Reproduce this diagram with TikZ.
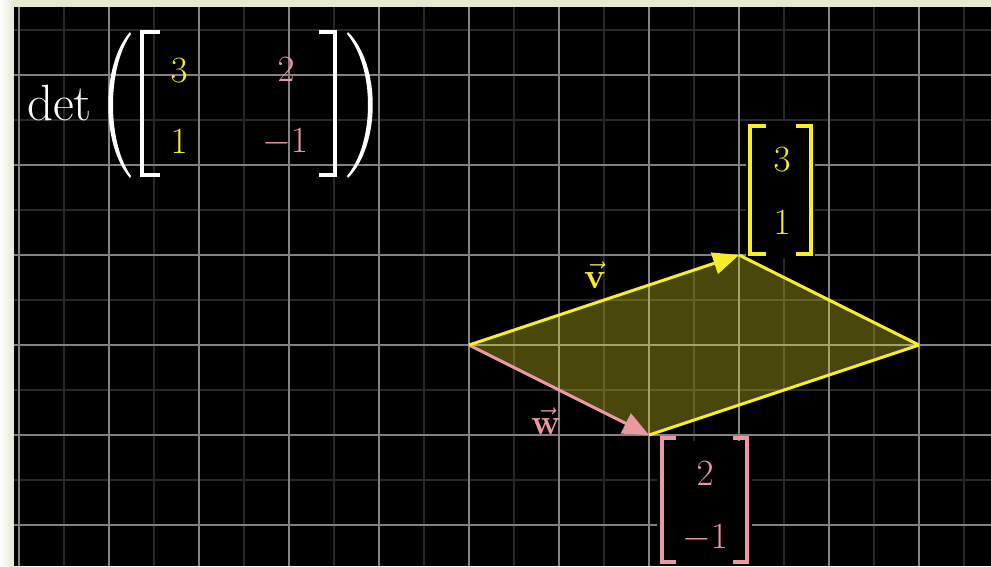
\RequirePackage{fix-cm}
\documentclass[tikz,border=0pt]{standalone}
\usetikzlibrary{arrows.meta}
\definecolor{frame}{RGB}{228,234,208}
\definecolor{vyel}{RGB}{245,238,40}
\definecolor{wpink}{RGB}{234,152,162}
\definecolor{majorg}{RGB}{130,130,130}
\definecolor{minorg}{RGB}{40,40,40}
\tikzset{
  minorline/.style={minorg, line width=1.1pt},
  majorline/.style={majorg, line width=1.7pt},
  edgeline/.style={vyel, line width=3pt, line join=round},
  yarrow/.style={vyel, line width=3pt, -{Triangle[length=26pt,width=22pt]}},
  parrow/.style={wpink, line width=3pt, -{Triangle[length=26pt,width=22pt]}},
  brk/.style={line width=4.5pt, line join=miter, line cap=butt},
  digit/.style={inner sep=0pt, font=\fontsize{37}{40}\selectfont},
  veclabel/.style={inner sep=0pt, font=\fontsize{36}{40}\selectfont},
  bgbox/.style={fill=black}
}
\begin{document}
\begin{tikzpicture}[x=1pt,y=-1pt]
\useasboundingbox (0,0) rectangle (991,566);
\fill[frame] (0,0) rectangle (991,566);
\shade[left color=white, right color=frame] (0,0) rectangle (14,566);
\fill[black] (14,7) rectangle (991,566);
\begin{scope}
  \clip (14,7) rectangle (991,566);
  \foreach \x in {64,154,...,964} \draw[minorline] (\x,7) -- (\x,566);
  \foreach \y in {30,120,...,570} \draw[minorline] (14,\y) -- (991,\y);
  \foreach \x in {19,109,...,919} \draw[majorline] (\x,7) -- (\x,566);
  \foreach \y in {75,165,...,525} \draw[majorline] (14,\y) -- (991,\y);
\end{scope}

% backgrounds of the column vectors
\fill[bgbox] (746,121) rectangle (815,258);
\fill[bgbox] (657,441) rectangle (752,566);

% vectors and parallelogram
\coordinate (O) at (469,345);
\coordinate (V) at (739,255);
\coordinate (W) at (649,435);
\coordinate (S) at (919,345);
\fill[vyel, opacity=0.3] (O) -- (V) -- (S) -- (W) -- cycle;
\draw[edgeline] (V) -- (S);
\draw[edgeline] (W) -- (S);
\draw[parrow] (O) -- (W);
\draw[yarrow] (O) -- (V);

\node[veclabel, text=vyel] (vlab) at (595,275) {$\vec{\mathbf{v}}$};
\node[veclabel, text=wpink] (wlab) at (546,421) {$\vec{\mathbf{w}}$};

% column vector v
\node[digit, text=vyel] (v1) at (782,160) {$3$};
\node[digit, text=vyel] (v2) at (782,223) {$1$};
\draw[brk, vyel] (766,126) -- (750,126) -- (750,254) -- (766,254);
\draw[brk, vyel] (796,126) -- (811,126) -- (811,254) -- (796,254);

% column vector w
\node[digit, text=wpink] (w1) at (705,474) {$2$};
\node[digit, text=wpink] (w2) at (705,538) {$-1$};
\draw[brk, wpink] (676,438) -- (662,438) -- (662,562) -- (676,562);
\draw[brk, wpink] (733,438) -- (747,438) -- (747,562) -- (733,562);

% determinant expression
\node[inner sep=0pt, anchor=base west, text=white, font=\fontsize{51}{56}\selectfont] (det) at (27,120) {det};
\fill[white] (130,32) .. controls (101,65) and (101,145) .. (130,178)
  -- (131,176) .. controls (107,142) and (107,68) .. (131,34) -- cycle;
\fill[white] (348,32) .. controls (381,65) and (381,145) .. (348,178)
  -- (347,176) .. controls (375,142) and (375,68) .. (347,34) -- cycle;
\draw[brk, white, line width=4pt] (160,32) -- (142,32) -- (142,175) -- (160,175);
\draw[brk, white, line width=4pt] (319,32) -- (335,32) -- (335,175) -- (319,175);
\node[digit, text=vyel] (a11) at (179,71) {$3$};
\node[digit, text=vyel] (a21) at (179,142) {$1$};
\node[digit, text=wpink] (a12) at (286,70) {$2$};
\node[digit, text=wpink] (a22) at (285,142) {$-1$};
\end{tikzpicture}
\end{document}
